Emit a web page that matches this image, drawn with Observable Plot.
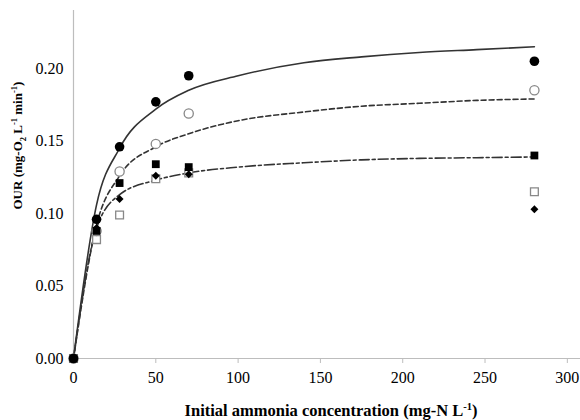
<!DOCTYPE html>
<html>
<head>
<meta charset="utf-8">
<script src="https://cdn.jsdelivr.net/npm/d3@7"></script>
<script src="https://cdn.jsdelivr.net/npm/@observablehq/plot@0.6"></script>
<style>
  html, body { margin: 0; padding: 0; background: #fff; }
</style>
</head>
<body>
<div id="chart"></div>
<script>
// Measured data (initial ammonia concentration, mg-N/L)
const conc = [0, 14, 28, 50, 70, 280];
const filledCircle = [0, 0.096, 0.146, 0.177, 0.195, 0.205];
const openCircle   = [0, 0.088, 0.129, 0.148, 0.169, 0.185];
const filledSquare = [0, 0.088, 0.121, 0.134, 0.132, 0.140];
const openSquare   = [0, 0.082, 0.099, 0.124, 0.128, 0.115];
const filledDiamond = [0, 0.090, 0.110, 0.126, 0.127, 0.103];

// Fitted curves
const fitX      = [0, 14, 28, 50, 70, 100, 140, 175, 210, 245, 280];
const fitSolid  = [0, 0.106, 0.145, 0.172, 0.185, 0.195, 0.204, 0.208, 0.211, 0.213, 0.215];
const fitDashed = [0, 0.092, 0.126, 0.146, 0.155, 0.164, 0.170, 0.174, 0.176, 0.178, 0.179];
const fitDashDot= [0, 0.090, 0.113, 0.123, 0.128, 0.132, 0.135, 0.137, 0.138, 0.1385, 0.139];

const xTicks = [0, 50, 100, 150, 200, 250, 300];
const yTicks = [0, 0.05, 0.10, 0.15, 0.20];

const xTitle = "Initial ammonia concentration (mg-N L-1)";
const yTitle = "OUR (mg-O2 L-1 min-1)";

const pts = (ys) => conc.map((x, i) => ({x, y: ys[i]}));
const fit = (ys) => fitX.map((x, i) => ({x, y: ys[i]}));

const axisGray = "#bdbdbd";
const lineColor = "#333";

const chart = Plot.plot({
  width: 580,
  height: 420,
  marginLeft: 73,
  marginRight: 0,
  marginTop: 10,
  marginBottom: 62,
  x: {domain: [0, 308]},
  y: {domain: [0, 0.24]},
  style: {fontFamily: "'Liberation Serif', 'Times New Roman', serif", fontSize: "16px", background: "#fff", color: "#000"},
  marks: [
    Plot.ruleY([0], {stroke: axisGray, strokeWidth: 1.2}),
    Plot.ruleX([0], {stroke: axisGray, strokeWidth: 1.2}),
    Plot.axisX({ticks: xTicks, tickSize: 5, tickPadding: 8, stroke: axisGray, fill: "#000", fontSize: 16, label: null}),
    Plot.axisY({ticks: yTicks, tickSize: 0, tickPadding: 10, tickFormat: d3.format(".2f"), fill: "#000", fontSize: 16, label: null}),
    Plot.line(fit(fitSolid), {x: "x", y: "y", curve: "monotone-x", stroke: lineColor, strokeWidth: 1.6}),
    Plot.line(fit(fitDashed), {x: "x", y: "y", curve: "monotone-x", stroke: lineColor, strokeWidth: 1.6, strokeDasharray: "5,3"}),
    Plot.line(fit(fitDashDot), {x: "x", y: "y", curve: "monotone-x", stroke: lineColor, strokeWidth: 1.6, strokeDasharray: "10,3,3,3"}),
    Plot.dot(pts(openSquare), {x: "x", y: "y", symbol: "square", r: 4.4, fill: "#fff", stroke: "#888", strokeWidth: 1.3}),
    Plot.dot(pts(openCircle), {x: "x", y: "y", symbol: "circle", r: 4.6, fill: "#fff", stroke: "#888", strokeWidth: 1.3}),
    Plot.dot(pts(filledDiamond), {x: "x", y: "y", symbol: "diamond2", r: 3.6, fill: "#000", stroke: "none"}),
    Plot.dot(pts(filledSquare), {x: "x", y: "y", symbol: "square", r: 4.4, fill: "#000", stroke: "none"}),
    Plot.dot(pts(filledCircle), {x: "x", y: "y", symbol: "circle", r: 4.8, fill: "#000", stroke: "none"}),
    Plot.text([xTitle], {frameAnchor: "bottom", lineAnchor: "middle", dy: 52, dx: 4, fontWeight: "bold", fontSize: 16.5, fill: "#000"}),
    Plot.text([yTitle], {frameAnchor: "left", lineAnchor: "middle", rotate: -90, dx: -56, dy: 25, fontWeight: "bold", fontSize: 13, fill: "#000"})
  ]
});

// rich text for sub/superscripts
function richify(svg, str, parts, sub, sup, small) {
  svg.querySelectorAll("text").forEach(t => {
    if (t.textContent === str) {
      while (t.firstChild) t.removeChild(t.firstChild);
      let shift = 0;
      parts.forEach(([s, kind]) => {
        const ts = document.createElementNS("http://www.w3.org/2000/svg", "tspan");
        const target = kind === "sub" ? sub : kind === "sup" ? sup : 0;
        const d = target - shift;
        if (d !== 0) ts.setAttribute("dy", d);
        shift = target;
        if (kind) ts.setAttribute("font-size", small);
        ts.textContent = s;
        t.appendChild(ts);
      });
    }
  });
}
document.getElementById("chart").appendChild(chart);
richify(chart, xTitle, [["Initial ammonia concentration (mg-N L"], ["-1", "sup"], [")"]], 4, -6, 10.5);
richify(chart, yTitle, [["OUR (mg-O"], ["2", "sub"], [" L"], ["-1", "sup"], [" min"], ["-1", "sup"], [")"]], 4, -5, 8.5);
</script>
</body>
</html>
